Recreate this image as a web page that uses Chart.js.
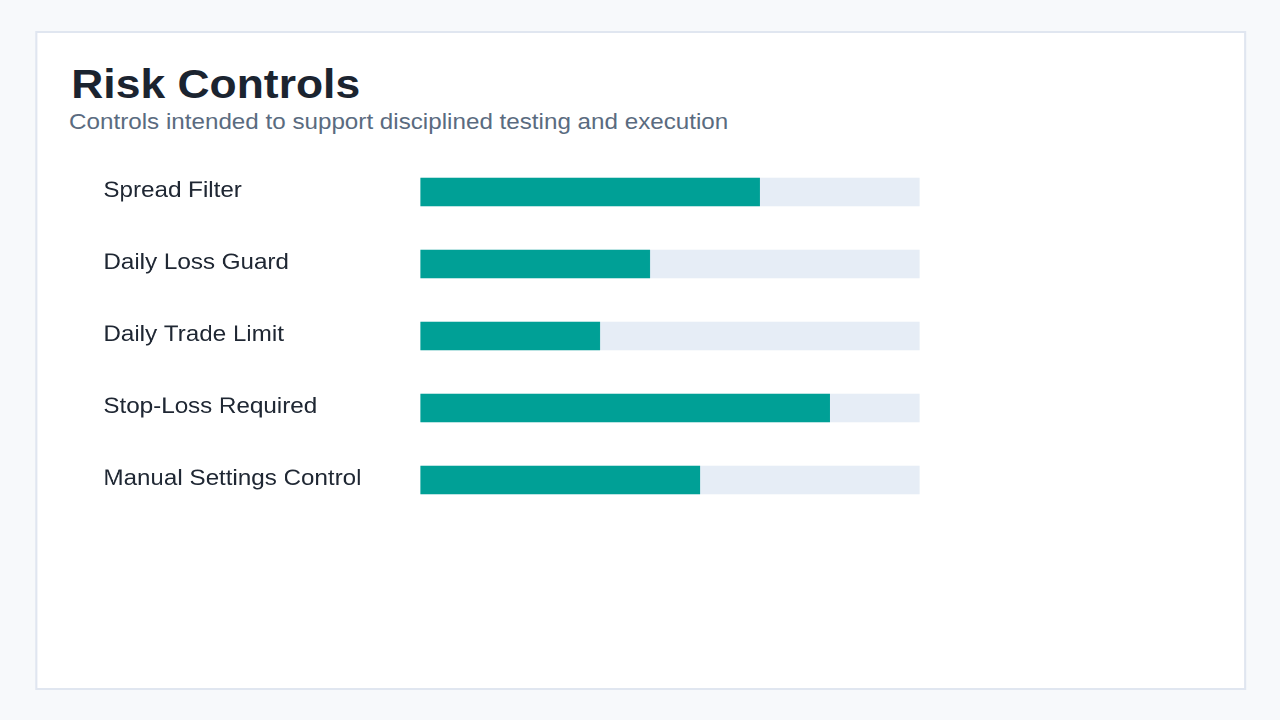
<!DOCTYPE html>
<html>
<head>
<meta charset="utf-8">
<script src="https://cdn.jsdelivr.net/npm/chart.js@4.4.1/dist/chart.umd.min.js"></script>
<style>
  html, body { margin: 0; padding: 0; background: #f7f9fb; width: 1280px; height: 720px; overflow: hidden; }
  #wrap { position: absolute; left: 0; top: 0; width: 1163.64px; height: 720px; transform: scaleX(1.1); transform-origin: 0 0; font-family: "Liberation Sans", Arial, sans-serif; }
  #card { position: absolute; left: 31.8px; top: 31px; width: 1097px; height: 655px; background: #ffffff; border: 2px solid #e0e6f0; }
  #title { position: absolute; left: 64.8px; top: 59px; font-size: 40.4px; font-weight: bold; color: #1b2430; line-height: 50px; white-space: nowrap; }
  #subtitle { position: absolute; left: 62.8px; top: 108px; font-size: 22px; color: #5a6b80; line-height: 28px; white-space: nowrap; }
  #chartBox { position: absolute; left: 93.6px; top: 156px; width: 742.8px; height: 360px; }
</style>
</head>
<body>
<div id="wrap">
  <div id="card"></div>
  <div id="title">Risk Controls</div>
  <div id="subtitle">Controls intended to support disciplined testing and execution</div>
  <div id="chartBox"><canvas id="c"></canvas></div>
</div>
<script>
const categories = ["Spread Filter", "Daily Loss Guard", "Daily Trade Limit", "Stop-Loss Required", "Manual Settings Control"];
const values = [68, 46, 36, 82, 56];
const trackMax = [100, 100, 100, 100, 100];

const ctx = document.getElementById('c');
new Chart(ctx, {
  type: 'bar',
  data: {
    labels: categories,
    datasets: [
      { label: 'Value', data: values, backgroundColor: '#00a096', borderWidth: 0, order: 1 },
      { label: 'Track', data: trackMax, backgroundColor: '#e6edf6', borderWidth: 0, order: 2 }
    ]
  },
  options: {
    indexAxis: 'y',
    responsive: true,
    maintainAspectRatio: false,
    animation: false,
    devicePixelRatio: 2,
    layout: { padding: 0 },
    datasets: { bar: { grouped: false, categoryPercentage: 1, barPercentage: 28.5 / 72 } },
    plugins: { legend: { display: false }, tooltip: { enabled: false }, title: { display: false } },
    scales: {
      x: { display: false, min: 0, max: 100 },
      y: {
        border: { display: false },
        grid: { display: false, drawTicks: false },
        afterFit: (s) => { s.width = 288.2; s.paddingTop = 0; s.paddingBottom = 0; },
        ticks: {
          crossAlign: 'far',
          padding: 0,
          labelOffset: -1,
          color: '#1f2733',
          font: { family: '"Liberation Sans", Arial, sans-serif', size: 22 }
        }
      }
    }
  }
});
</script>
</body>
</html>
